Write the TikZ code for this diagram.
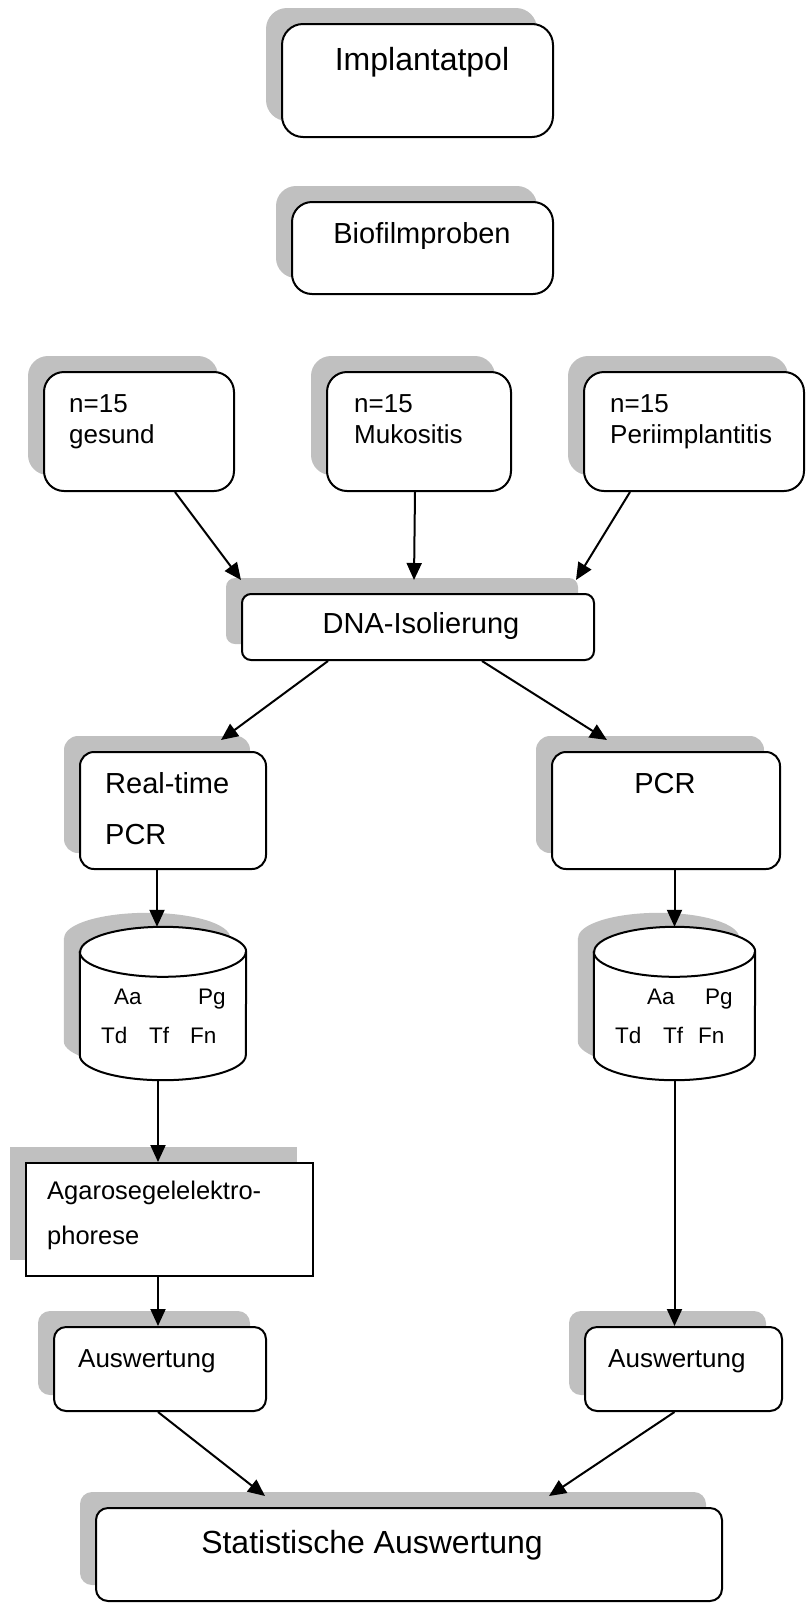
\documentclass[tikz,border=0pt]{standalone}
\usepackage{fontspec}
\setmainfont{Liberation Sans}
\usetikzlibrary{arrows.meta,shadows}
\definecolor{shgray}{HTML}{C0C0C0}
\newcommand\ffbig{\fontsize{32pt}{38pt}\selectfont}
\newcommand\ffmid{\fontsize{29pt}{35pt}\selectfont}
\newcommand\ffsm{\fontsize{26pt}{31pt}\selectfont}
\newcommand\ffag{\fontsize{25.5pt}{30pt}\selectfont}
\newcommand\ffcyl{\fontsize{22.5pt}{26pt}\selectfont}
% cylinder drawing: #1 node name, #2 x radius
\newcommand\drawcyl[2]{%
  \fill[shgray] ([xshift=-16pt,yshift=-11pt]#1.north west) -- ([xshift=-16pt,yshift=39pt]#1.south west)
    arc[start angle=180,end angle=360,x radius=#2,y radius=25]
    -- ([xshift=-16pt,yshift=-11pt]#1.north east)
    arc[start angle=0,end angle=180,x radius=#2,y radius=25] -- cycle;
  \draw[line width=2pt,fill=white] ([yshift=-25pt]#1.north west) -- ([yshift=25pt]#1.south west)
    arc[start angle=180,end angle=360,x radius=#2,y radius=25]
    -- ([yshift=-25pt]#1.north east)
    arc[start angle=0,end angle=180,x radius=#2,y radius=25] -- cycle;
  \draw[line width=2pt] ([yshift=-25pt]#1.north west)
    arc[start angle=180,end angle=360,x radius=#2,y radius=25];
}
\begin{document}
\begin{tikzpicture}[x=1pt,y=1pt,
  box/.style={draw=black, line width=2pt, fill=white, inner sep=0pt,
    general shadow={fill=shgray, shadow xshift=-16pt, shadow yshift=16pt}},
  rbox/.style={box, rounded corners=#1},
  lbl/.style={inner sep=0pt, anchor=base west},
  clbl/.style={inner sep=0pt, anchor=base},
  conn/.style={line width=2pt, -{Triangle[length=17pt,width=15pt]}},
  cylarea/.style={inner sep=0pt, draw=none}
  ]
\useasboundingbox (0,0) rectangle (807,-1604);

% boxes
\node[rbox=21pt, minimum width=271pt, minimum height=113pt] (impl) at (417.5,-80.5) {};
\node[clbl, font=\ffbig] (implT) at (422,-70) {Implantatpol};

\node[rbox=20pt, minimum width=261pt, minimum height=92pt] (bio) at (422.5,-248) {};
\node[clbl, font=\ffmid] (bioT) at (422,-243) {Biofilmproben};

\node[rbox=20pt, minimum width=190pt, minimum height=119pt] (ges) at (139,-431.5) {};
\node[lbl, font=\ffsm] (gesT1) at (69,-412) {n=15};
\node[lbl, font=\ffsm] (gesT2) at (69,-443) {gesund};

\node[rbox=20pt, minimum width=184pt, minimum height=119pt] (muk) at (419,-431.5) {};
\node[lbl, font=\ffsm] (mukT1) at (354,-412) {n=15};
\node[lbl, font=\ffsm] (mukT2) at (354,-443) {Mukositis};

\node[rbox=20pt, minimum width=220pt, minimum height=119pt] (peri) at (694,-431.5) {};
\node[lbl, font=\ffsm] (periT1) at (610,-412) {n=15};
\node[lbl, font=\ffsm] (periT2) at (610,-443) {Periimplantitis};

\node[rbox=9pt, minimum width=352pt, minimum height=66pt] (dna) at (418,-627) {};
\node[clbl, font=\ffmid] (dnaT) at (421,-633) {DNA-Isolierung};

\node[rbox=14pt, minimum width=186pt, minimum height=117pt] (rt) at (173,-810.5) {};
\node[lbl, font=\ffmid] (rtT1) at (105,-793) {Real-time};
\node[lbl, font=\ffmid] (rtT2) at (105,-844) {PCR};

\node[rbox=14pt, minimum width=228pt, minimum height=117pt] (pcr) at (666,-810.5) {};
\node[clbl, font=\ffmid] (pcrT) at (665,-793) {PCR};

% cylinders
\node[cylarea, minimum width=166pt, minimum height=153pt] (cylL) at (163,-1003.5) {};
\drawcyl{cylL}{83}
\node[lbl, font=\ffcyl] (cLa) at (114,-1004) {Aa};
\node[lbl, font=\ffcyl] (cLb) at (198,-1004) {Pg};
\node[lbl, font=\ffcyl] (cLc) at (101,-1043) {Td};
\node[lbl, font=\ffcyl] (cLd) at (149,-1043) {Tf};
\node[lbl, font=\ffcyl] (cLe) at (190,-1043) {Fn};

\node[cylarea, minimum width=161pt, minimum height=153pt] (cylR) at (674.5,-1003.5) {};
\drawcyl{cylR}{80.5}
\node[lbl, font=\ffcyl] (cRa) at (647,-1004) {Aa};
\node[lbl, font=\ffcyl] (cRb) at (705,-1004) {Pg};
\node[lbl, font=\ffcyl] (cRc) at (615,-1043) {Td};
\node[lbl, font=\ffcyl] (cRd) at (663,-1043) {Tf};
\node[lbl, font=\ffcyl] (cRe) at (698,-1043) {Fn};

\node[box, minimum width=287pt, minimum height=113pt] (aga) at (169.5,-1219.5) {};
\node[lbl, font=\ffag] (agaT1) at (47,-1199) {Agarosegelelektro-};
\node[lbl, font=\ffag] (agaT2) at (47,-1244) {phorese};

\node[rbox=12pt, minimum width=212pt, minimum height=84pt] (ausL) at (160,-1369) {};
\node[lbl, font=\ffsm] (ausLT) at (78,-1367) {Auswertung};

\node[rbox=12pt, minimum width=197pt, minimum height=84pt] (ausR) at (683.5,-1369) {};
\node[lbl, font=\ffsm] (ausRT) at (608,-1367) {Auswertung};

\node[rbox=12pt, minimum width=626pt, minimum height=93pt] (stat) at (409,-1554.5) {};
\node[clbl, font=\ffbig] (statT) at (372,-1553) {Statistische Auswertung};

% connectors
\draw[conn] ([xshift=36pt]ges.south) -- ([yshift=13pt]dna.north west);
\draw[conn] ([xshift=-4pt]muk.south) -- ([xshift=-4pt,yshift=13pt]dna.north);
\draw[conn] ([xshift=-64pt]peri.south) -- ([xshift=-19pt,yshift=13pt]dna.north east);
\draw[conn] ([xshift=-90pt]dna.south) -- ([xshift=48pt,yshift=11pt]rt.north);
\draw[conn] ([xshift=64pt]dna.south) -- ([xshift=-59pt,yshift=11pt]pcr.north);
\draw[conn] ([xshift=-16pt]rt.south) -- ([xshift=-6pt]cylL.north);
\draw[conn] ([xshift=8.5pt]pcr.south) -- (cylR.north);
\draw[conn] ([xshift=-5pt]cylL.south) -- ([xshift=-11.5pt]aga.north);
\draw[conn] ([xshift=-11.5pt]aga.south) -- ([xshift=-2pt]ausL.north);
\draw[conn] (cylR.south) -- ([xshift=-9pt]ausR.north);
\draw[conn] ([xshift=-2pt]ausL.south) -- ([xshift=-144pt,yshift=11pt]stat.north);
\draw[conn] ([xshift=-9pt]ausR.south) -- ([xshift=140pt,yshift=11pt]stat.north);
\end{tikzpicture}
\end{document}
